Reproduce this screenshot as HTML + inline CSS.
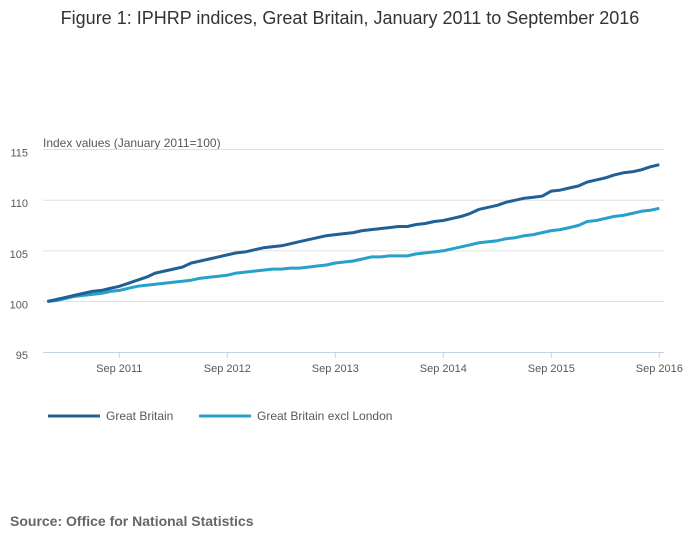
<!DOCTYPE html>
<html><head><meta charset="utf-8"><style>
body{margin:0;background:#fff;font-family:"Liberation Sans",sans-serif}
svg{display:block}
</style></head><body>
<svg id="chart" width="700" height="549" font-family="Liberation Sans, sans-serif">
<text x="350" y="24" text-anchor="middle" font-size="18" fill="#333">Figure 1: IPHRP indices, Great Britain, January 2011 to September 2016</text>
<text x="43" y="147" font-size="12" fill="#595959">Index values (January 2011=100)</text>
<g id="grid"></g><g id="xaxis"></g><g id="series"></g>
<g>
<g><line x1="48" y1="416" x2="100" y2="416" stroke="#206095" stroke-width="3"/><text x="106" y="420" font-size="12" fill="#595959">Great Britain</text></g>
<g><line x1="199" y1="416" x2="251" y2="416" stroke="#27a0cc" stroke-width="3"/><text x="257" y="420" font-size="12" fill="#595959">Great Britain excl London</text></g>
</g>
<text x="10" y="526" font-size="14" font-weight="bold" fill="#666">Source: Office for National Statistics</text>
</svg>
<script>
const yTicks=[95,100,105,110,115];
const xTickLabels=["Sep 2011","Sep 2012","Sep 2013","Sep 2014","Sep 2015","Sep 2016"];
const xTickMonths=[8,20,32,44,56,68];
const gb=[100.0,100.2,100.4,100.6,100.8,101.0,101.1,101.3,101.5,101.8,102.1,102.4,
102.8,103.0,103.2,103.4,103.8,104.0,104.2,104.4,104.6,104.8,104.9,105.1,
105.3,105.4,105.5,105.7,105.9,106.1,106.3,106.5,106.6,106.7,106.8,107.0,
107.1,107.2,107.3,107.4,107.4,107.6,107.7,107.9,108.0,108.2,108.4,108.7,
109.1,109.3,109.5,109.8,110.0,110.2,110.3,110.4,110.9,111.0,111.2,111.4,
111.8,112.0,112.2,112.5,112.7,112.8,113.0,113.3,113.5];
const gbExLondon=[100.0,100.1,100.3,100.5,100.6,100.7,100.8,101.0,101.1,101.3,101.5,101.6,
101.7,101.8,101.9,102.0,102.1,102.3,102.4,102.5,102.6,102.8,102.9,103.0,
103.1,103.2,103.2,103.3,103.3,103.4,103.5,103.6,103.8,103.9,104.0,104.2,
104.4,104.4,104.5,104.5,104.5,104.7,104.8,104.9,105.0,105.2,105.4,105.6,
105.8,105.9,106.0,106.2,106.3,106.5,106.6,106.8,107.0,107.1,107.3,107.5,
107.9,108.0,108.2,108.4,108.5,108.7,108.9,109.0,109.2];
const NS="http://www.w3.org/2000/svg";
const xS=m=>47.3+m*9.0;
const yS=v=>301.5-(v-100)*10.13;
function mk(t,a,p){const e=document.createElementNS(NS,t);for(const k in a)e.setAttribute(k,a[k]);p.appendChild(e);return e;}
const grid=document.getElementById('grid'),xa=document.getElementById('xaxis'),ser=document.getElementById('series');
yTicks.forEach(v=>{
 if(v!==95){const l=mk('line',{x1:43,x2:664,y1:yS(v),y2:yS(v),stroke:'#e0e0e0','stroke-width':1},grid);
 
 }
 const t=mk('text',{x:28,y:yS(v)+7,'text-anchor':'end','font-size':11,fill:'#595959'},grid);t.textContent=v;
 
 
});
const ax=mk('line',{x1:43,x2:664,y1:352.5,y2:352.5,stroke:'#c6d3e6','stroke-width':1},xa);


xTickMonths.forEach((m,i)=>{
 mk('line',{x1:xS(m),x2:xS(m),y1:352,y2:358,stroke:'#c6d3e6'},xa);
 const t=mk('text',{x:xS(m),y:372,'text-anchor':'middle','font-size':11,fill:'#595959'},xa);t.textContent=xTickLabels[i];
 
 
});
function draw(arr,col,name){
 const p=mk('path',{d:arr.map((v,i)=>(i?'L':'M')+xS(i).toFixed(1)+','+yS(v).toFixed(1)).join(''),fill:'none',stroke:col,'stroke-width':3,'stroke-linejoin':'round'},ser);
 
 
}
draw(gbExLondon,'#27a0cc','line-great-britain-excl-london');
draw(gb,'#206095','line-great-britain');
</script>
</body></html>
